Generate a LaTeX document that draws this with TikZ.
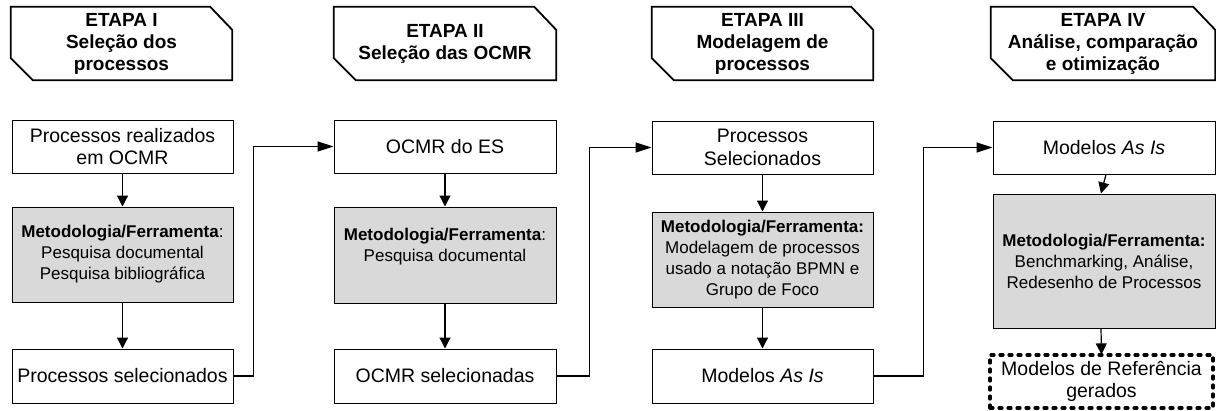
\documentclass[tikz,border=0pt]{standalone}
\usepackage{fontspec}
\setmainfont{Liberation Sans}
\usetikzlibrary{arrows.meta}
\definecolor{boxgray}{RGB}{217,217,217}
\begin{document}
\begin{tikzpicture}[x=1pt,y=-1pt,
 hdrtext/.style={align=center,font=\fontsize{19}{22}\selectfont\bfseries,inner sep=0pt,minimum width=221pt,minimum height=73pt},
 hdrline/.style={line width=1.8pt,line join=miter},
 wbox/.style={draw,line width=1pt,fill=white,align=center,inner sep=0pt,minimum width=221pt,font=\fontsize{19.5}{22.5}\selectfont},
 gbox/.style={draw,line width=1pt,fill=boxgray,align=center,inner sep=0pt,minimum width=221pt,font=\fontsize{17}{21}\selectfont},
 dbox/.style={draw,line width=3.2pt,dash pattern=on 3pt off 6pt,line cap=round,align=center,inner sep=0pt,minimum width=223pt,minimum height=53pt,font=\fontsize{19.5}{22.5}\selectfont},
 varr/.style={line width=1.2pt,-{Triangle[length=11pt,width=11pt]}},
 harr/.style={line width=1.3pt,-{Triangle[length=16pt,width=10pt]}},
]
\useasboundingbox (0,0) rectangle (1216,410);

% headers
\node[hdrtext] (h1) at (121.5,43.5) {ETAPA I\\Seleção dos\\processos};
\node[hdrtext,minimum width=222pt] (h2) at (445,43.5) {ETAPA II\\Seleção das OCMR};
\node[hdrtext] (h3) at (762.5,43.5) {ETAPA III\\Modelagem de\\processos};
\node[hdrtext,minimum width=224pt] (h4) at (1103,43.5) {ETAPA IV\\Análise, comparação\\e otimização};
\foreach \h in {h1,h2,h3,h4}{
  \draw[hdrline] (\h.north west) -- ([xshift=-22pt]\h.north east) -- ([yshift=-23pt]\h.north east)
    -- (\h.south east) -- ([xshift=22pt]\h.south west) -- ([yshift=22pt]\h.south west) -- cycle;
}

% column 1
\node[wbox,minimum height=53pt] (b11) at (122.5,146.5) {Processos realizados\\em OCMR};
\node[gbox,minimum height=95pt] (g1) at (122.5,254.5) {\textbf{Metodologia/Ferramenta}:\\Pesquisa documental\\Pesquisa bibliográfica};
\node[wbox,minimum height=54pt] (b13) at (122.5,376) {Processos selecionados};

% column 2
\node[wbox,minimum height=53pt,minimum width=222pt] (b21) at (445,146.5) {OCMR do ES};
\node[gbox,minimum height=96pt,minimum width=222pt] (g2) at (445,255) {\textbf{Metodologia/Ferramenta}:\\Pesquisa documental\\\mbox{}};
\node[wbox,minimum height=54pt,minimum width=222pt] (b23) at (445,376) {OCMR selecionadas};

% column 3
\node[wbox,minimum height=53pt] (b31) at (762.5,147.5) {Processos\\Selecionados};
\node[gbox,minimum height=95pt] (g3) at (762.5,259.5) {\textbf{Metodologia/Ferramenta:}\\Modelagem de processos\\usado a notação BPMN e\\Grupo de Foco};
\node[wbox,minimum height=54pt] (b33) at (762.5,376) {Modelos \textit{As Is}};

% column 4
\node[wbox,minimum height=53pt,minimum width=222pt] (b41) at (1104,147.5) {Modelos \textit{As Is}};
\node[gbox,minimum height=134pt,minimum width=222pt] (g4) at (1104,261) {\textbf{Metodologia/Ferramenta:}\\Benchmarking, Análise,\\Redesenho de Processos};
\node[dbox] (d4) at (1101.5,381.5) {Modelos de Referência\\gerados};

% vertical arrows
\draw[varr] (b11.south) -- (g1.north);
\draw[varr] (g1.south) -- (b13.north);
\draw[varr] (b21.south) -- (g2.north);
\draw[varr] (g2.south) -- (b23.north);
\draw[varr] (b31.south) -- (g3.north);
\draw[varr] (g3.south) -- (b33.north);
\draw[varr] ([xshift=2pt]b41.south) -- ([xshift=-3pt]g4.north);
\draw[varr] ([xshift=-3pt]g4.south) -- ([yshift=-1pt]d4.north);

% connectors between stages
\draw[harr] (b13.east) -- ++(20,0) |- (b21.west);
\draw[harr] (b23.east) -- ++(33,0) |- (b31.west);
\draw[harr] (b33.east) -- ++(50,0) |- (b41.west);
\end{tikzpicture}
\end{document}
